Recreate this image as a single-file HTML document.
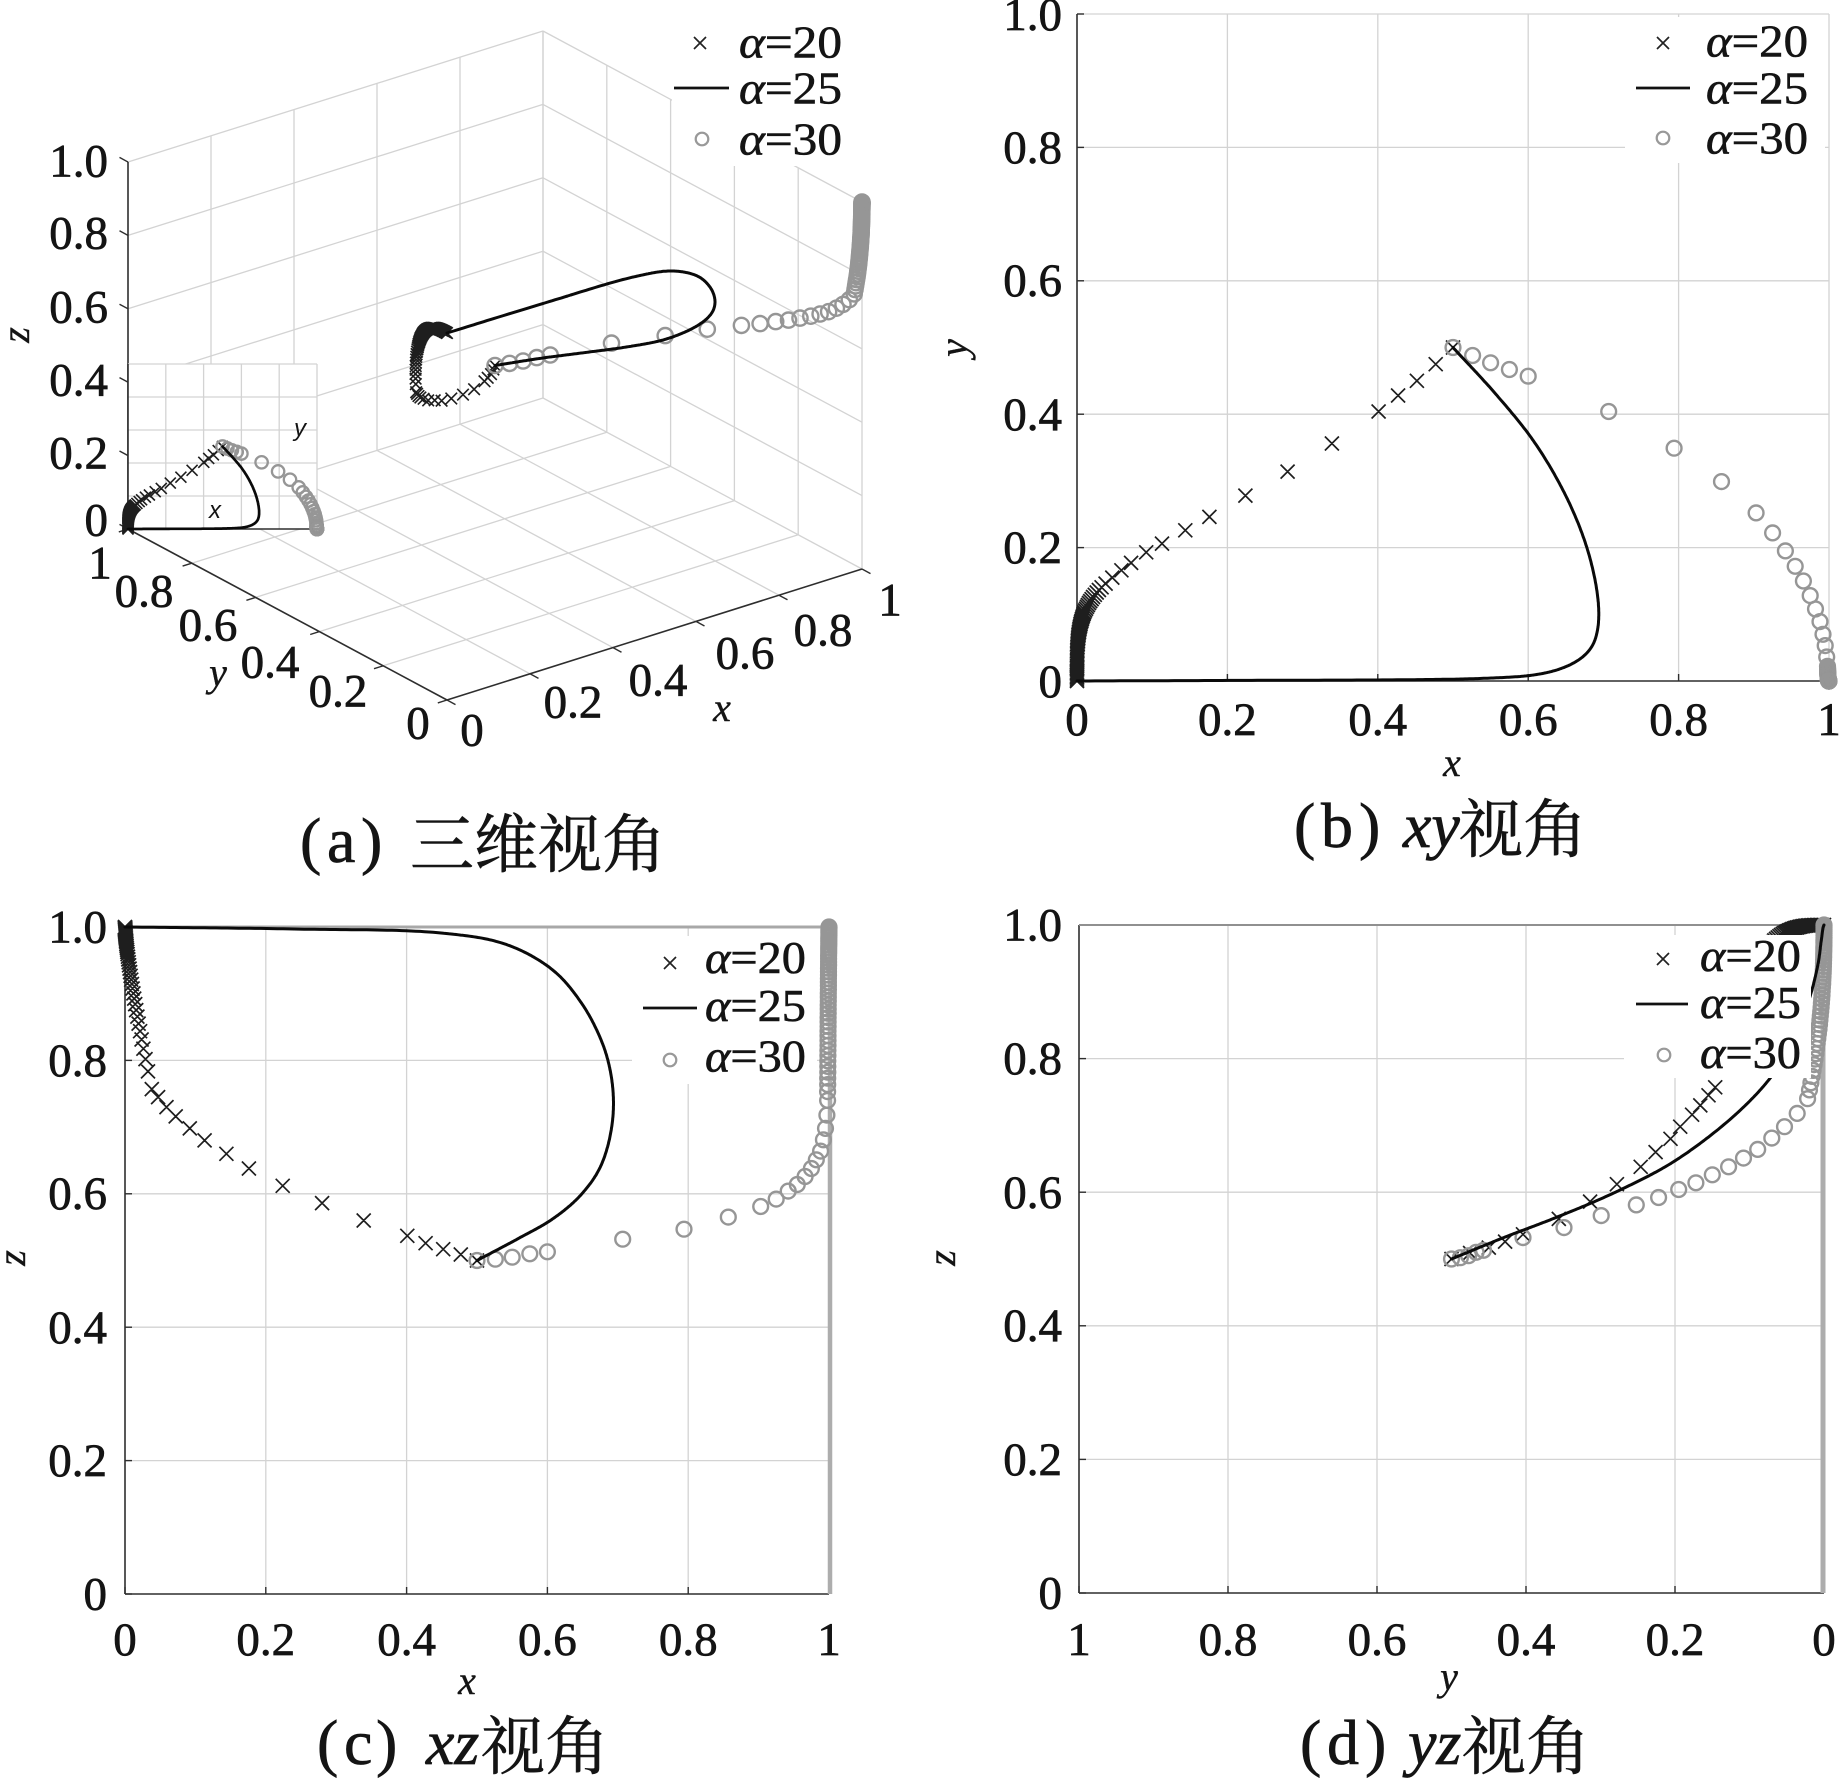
<!DOCTYPE html>
<html><head><meta charset="utf-8"><title>chart</title>
<style>
html,body{margin:0;padding:0;background:#fff;overflow:hidden;}
svg{display:block;}
.t{font-family:"Liberation Serif","DejaVu Serif",serif;font-size:47px;fill:#141414;stroke:#141414;stroke-width:0.7px;}
.e{text-anchor:end;}
.m{text-anchor:middle;}
.ax{font-family:"Liberation Serif",serif;font-size:40px;font-style:italic;fill:#141414;text-anchor:middle;stroke:#141414;stroke-width:0.4px;}
.lg{font-family:"Liberation Serif",serif;font-size:46px;fill:#141414;stroke:#141414;stroke-width:0.6px;}
.ti{font-family:"Liberation Serif",serif;font-size:64px;fill:#141414;stroke:#141414;stroke-width:0.7px;}
.cj{font-family:"Liberation Serif","Noto Serif CJK SC","Noto Sans CJK SC",serif;font-size:64px;fill:#141414;stroke:#141414;stroke-width:0.6px;}
.in{font-family:"Liberation Sans",sans-serif;font-size:24px;font-style:italic;fill:#141414;text-anchor:middle;}
</style></head><body>
<svg id="s" width="1841" height="1779" viewBox="0 0 1841 1779" xmlns="http://www.w3.org/2000/svg">
<rect width="1841" height="1779" fill="#fff"/>
<g id="g3"></g>
<g id="gi"></g>
<g id="d3"></g>
<g id="g2"></g>
<line x1="125" y1="927" x2="829" y2="927" stroke="#a8a8a8" stroke-width="3"/>
<line x1="830" y1="927" x2="830" y2="1594" stroke="#adadad" stroke-width="4.5"/>
<line x1="1079" y1="925" x2="1824" y2="925" stroke="#909090" stroke-width="2"/>
<line x1="1823" y1="925" x2="1823" y2="1593" stroke="#adadad" stroke-width="5"/>
<g id="d2"></g>

<rect x="672" y="14" width="178" height="152" fill="#fff"/>
<rect x="1625" y="17" width="200" height="146" fill="#fff"/>
<rect x="632" y="936" width="185" height="148" fill="#fff"/>
<rect x="1624" y="935" width="187" height="143" fill="#fff"/>

<g stroke="#222" stroke-width="1.7" fill="none">
<path d="M694 37L706 49M694 49L706 37"/>
<path d="M1657 37L1669 49M1657 49L1669 37"/>
<path d="M664 957L676 969M664 969L676 957"/>
<path d="M1657 953L1669 965M1657 965L1669 953"/>
</g>
<g stroke="#111" stroke-width="2.8">
<line x1="674" y1="88" x2="729" y2="88"/>
<line x1="1636" y1="88" x2="1690" y2="88"/>
<line x1="643" y1="1008" x2="697" y2="1008"/>
<line x1="1636" y1="1004" x2="1688" y2="1004"/>
</g>
<g stroke="#999" stroke-width="2.2" fill="none">
<circle cx="702" cy="139" r="6.3"/>
<circle cx="1663" cy="138" r="6.3"/>
<circle cx="670" cy="1060" r="6.3"/>
<circle cx="1664" cy="1055" r="6.3"/>
</g>
<text class="lg" x="739" y="57.5" textLength="103" lengthAdjust="spacingAndGlyphs"><tspan font-style="italic">α</tspan>=20</text>
<text class="lg" x="739" y="103.5" textLength="103" lengthAdjust="spacingAndGlyphs"><tspan font-style="italic">α</tspan>=25</text>
<text class="lg" x="739" y="154.5" textLength="103" lengthAdjust="spacingAndGlyphs"><tspan font-style="italic">α</tspan>=30</text>
<text class="lg" x="1706" y="56.5" textLength="102" lengthAdjust="spacingAndGlyphs"><tspan font-style="italic">α</tspan>=20</text>
<text class="lg" x="1706" y="103.5" textLength="102" lengthAdjust="spacingAndGlyphs"><tspan font-style="italic">α</tspan>=25</text>
<text class="lg" x="1706" y="153.5" textLength="102" lengthAdjust="spacingAndGlyphs"><tspan font-style="italic">α</tspan>=30</text>
<text class="lg" x="705" y="973" textLength="101" lengthAdjust="spacingAndGlyphs"><tspan font-style="italic">α</tspan>=20</text>
<text class="lg" x="705" y="1021" textLength="101" lengthAdjust="spacingAndGlyphs"><tspan font-style="italic">α</tspan>=25</text>
<text class="lg" x="705" y="1071.5" textLength="101" lengthAdjust="spacingAndGlyphs"><tspan font-style="italic">α</tspan>=30</text>
<text class="lg" x="1700" y="971" textLength="101" lengthAdjust="spacingAndGlyphs"><tspan font-style="italic">α</tspan>=20</text>
<text class="lg" x="1700" y="1018" textLength="101" lengthAdjust="spacingAndGlyphs"><tspan font-style="italic">α</tspan>=25</text>
<text class="lg" x="1700" y="1068" textLength="101" lengthAdjust="spacingAndGlyphs"><tspan font-style="italic">α</tspan>=30</text>

<text class="t e" x="108" y="176.5">1.0</text>
<text class="t e" x="108" y="248.5">0.8</text>
<text class="t e" x="108" y="322.5">0.6</text>
<text class="t e" x="108" y="395.5">0.4</text>
<text class="t e" x="108" y="468.5">0.2</text>
<text class="t e" x="108" y="535.5">0</text>
<text class="t m" x="100" y="578.5">1</text>
<text class="t m" x="144" y="606.5">0.8</text>
<text class="t m" x="208" y="640.5">0.6</text>
<text class="t m" x="270" y="677.5">0.4</text>
<text class="t m" x="338" y="706.5">0.2</text>
<text class="t m" x="418" y="738.5">0</text>
<text class="t m" x="472" y="745.5">0</text>
<text class="t m" x="573" y="717.5">0.2</text>
<text class="t m" x="658" y="695.5">0.4</text>
<text class="t m" x="745" y="668.5">0.6</text>
<text class="t m" x="823" y="645.5">0.8</text>
<text class="t m" x="890" y="615.5">1</text>
<text class="ax" transform="translate(20,335) rotate(-90)" x="0" y="9">z</text>
<text class="ax" x="218" y="686">y</text>
<text class="ax" x="722" y="721">x</text>
<text class="in" x="215" y="518">x</text>
<text class="in" x="300" y="436">y</text>

<text class="t m" x="1077" y="735">0</text>
<text class="t m" x="1227.4" y="735">0.2</text>
<text class="t m" x="1377.8" y="735">0.4</text>
<text class="t m" x="1528.2" y="735">0.6</text>
<text class="t m" x="1678.6" y="735">0.8</text>
<text class="t m" x="1829" y="735">1</text>
<text class="t e" x="1062" y="697">0</text>
<text class="t e" x="1062" y="563">0.2</text>
<text class="t e" x="1062" y="430">0.4</text>
<text class="t e" x="1062" y="296">0.6</text>
<text class="t e" x="1062" y="163">0.8</text>
<text class="t e" x="1062" y="30">1.0</text>
<text class="ax" x="1452" y="776">x</text>
<text class="ax" transform="translate(962,348) rotate(-90)" x="0" y="5">y</text>

<text class="t m" x="125" y="1655">0</text>
<text class="t m" x="265.8" y="1655">0.2</text>
<text class="t m" x="406.6" y="1655">0.4</text>
<text class="t m" x="547.4" y="1655">0.6</text>
<text class="t m" x="688.2" y="1655">0.8</text>
<text class="t m" x="829" y="1655">1</text>
<text class="t e" x="107" y="1609.5">0</text>
<text class="t e" x="107" y="1476">0.2</text>
<text class="t e" x="107" y="1343">0.4</text>
<text class="t e" x="107" y="1209">0.6</text>
<text class="t e" x="107" y="1076">0.8</text>
<text class="t e" x="107" y="942.5">1.0</text>
<text class="ax" x="467" y="1694">x</text>
<text class="ax" transform="translate(16,1258) rotate(-90)" x="0" y="9">z</text>

<text class="t m" x="1079" y="1655">1</text>
<text class="t m" x="1228" y="1655">0.8</text>
<text class="t m" x="1377" y="1655">0.6</text>
<text class="t m" x="1526" y="1655">0.4</text>
<text class="t m" x="1675" y="1655">0.2</text>
<text class="t m" x="1824" y="1655">0</text>
<text class="t e" x="1062" y="1608.5">0</text>
<text class="t e" x="1062" y="1475">0.2</text>
<text class="t e" x="1062" y="1341">0.4</text>
<text class="t e" x="1062" y="1208">0.6</text>
<text class="t e" x="1062" y="1074">0.8</text>
<text class="t e" x="1062" y="940.5">1.0</text>
<text class="ax" x="1449" y="1690">y</text>
<text class="ax" transform="translate(946,1258) rotate(-90)" x="0" y="9">z</text>

<text class="ti" y="862"><tspan x="300">(</tspan><tspan x="327">a</tspan><tspan x="361">)</tspan></text>
<text class="cj" x="410" y="867">三维视角</text>
<text class="ti" y="847"><tspan x="1294">(</tspan><tspan x="1321">b</tspan><tspan x="1359">)</tspan></text>
<text class="ti" x="1403" y="847" font-style="italic">xy</text>
<text class="cj" x="1459" y="852">视角</text>
<text class="ti" y="1764"><tspan x="317">(</tspan><tspan x="344">c</tspan><tspan x="376">)</tspan></text>
<text class="ti" x="426" y="1764" font-style="italic">xz</text>
<text class="cj" x="481" y="1769">视角</text>
<text class="ti" y="1764"><tspan x="1300">(</tspan><tspan x="1327">d</tspan><tspan x="1365">)</tspan></text>
<text class="ti" x="1408" y="1764" font-style="italic">yz</text>
<text class="cj" x="1462" y="1769">视角</text>
</svg>
<script>
(function(){
var NS='http://www.w3.org/2000/svg';
function E(g,tag,a){var e=document.createElementNS(NS,tag);for(var k in a)e.setAttribute(k,a[k]);g.appendChild(e);return e;}
function f(v){return v.toFixed(1);}
function L(g,a,b,c,w){E(g,'line',{x1:f(a[0]),y1:f(a[1]),x2:f(b[0]),y2:f(b[1]),stroke:c,'stroke-width':w});}
function crosses(g,pts,h,w,c){var d='';pts.forEach(function(p){d+='M'+f(p[0]-h)+' '+f(p[1]-h)+'L'+f(p[0]+h)+' '+f(p[1]+h)+'M'+f(p[0]-h)+' '+f(p[1]+h)+'L'+f(p[0]+h)+' '+f(p[1]-h);});E(g,'path',{d:d,stroke:c,'stroke-width':w,fill:'none'});}
function circles(g,pts,r,w,c){pts.forEach(function(p){E(g,'circle',{cx:f(p[0]),cy:f(p[1]),r:r,fill:'none',stroke:c,'stroke-width':w});});}
function poly(g,pts,w,c){E(g,'polyline',{points:pts.map(function(p){return f(p[0])+','+f(p[1]);}).join(' '),fill:'none',stroke:c,'stroke-width':w,'stroke-linejoin':'round','stroke-linecap':'round'});}

var a20=[[0.500,0.500,0.500],[0.477,0.475,0.509],[0.452,0.450,0.517],[0.427,0.428,0.526],[0.401,0.404,0.537],[0.339,0.356,0.560],[0.280,0.314,0.586],[0.224,0.278,0.612],[0.176,0.246,0.638],[0.144,0.226,0.660],[0.113,0.206,0.680],[0.092,0.193,0.698],[0.072,0.177,0.716],[0.059,0.166,0.730],[0.047,0.155,0.745]];
var N20=60;
for(var i=0;i<=N20;i++){var s=1-Math.pow(i/N20,0.8);a20.push([0.038*Math.pow(s,3.9),0.146*s,1-0.243*s*s*s]);}
var a30=[[0.500,0.500,0.500],[0.526,0.488,0.502],[0.550,0.477,0.505],[0.575,0.467,0.510],[0.600,0.457,0.513],[0.707,0.404,0.532],[0.794,0.349,0.547],[0.857,0.299,0.565],[0.903,0.252,0.581],[0.925,0.222,0.592],[0.942,0.195,0.604],[0.955,0.172,0.614],[0.966,0.150,0.626],[0.975,0.128,0.638],[0.982,0.108,0.651],[0.988,0.089,0.664],[0.992,0.070,0.681],[0.995,0.053,0.698],[0.997,0.036,0.718]];
var N30=45;
for(var i=0;i<=N30;i++){var s=1-Math.pow(i/N30,0.85);a30.push([1-0.002*s,0.022*s*s*s,1-0.26*Math.pow(s,1.3)]);}
var K25=[[0.500,0.500,0.500],[0.557,0.43,0.532],[0.607,0.36,0.562],[0.649,0.28,0.600],[0.678,0.20,0.647],[0.693,0.12,0.715],[0.691,0.07,0.774],[0.678,0.042,0.826],[0.649,0.021,0.885],[0.607,0.009,0.936],[0.541,0.004,0.974],[0.449,0.002,0.991],[0.240,0.001,0.997],[0.0,0.0,1.0]];
function crc(P,n){
  var first=P[0].map(function(v,j){return 2*v-P[1][j];});
  var last=P[P.length-1].map(function(v,j){return 2*v-P[P.length-2][j];});
  var pts=[first].concat(P).concat([last]);
  var out=[];
  function d(a,b){return Math.pow(Math.sqrt((a[0]-b[0])*(a[0]-b[0])+(a[1]-b[1])*(a[1]-b[1])+(a[2]-b[2])*(a[2]-b[2])),0.5)||1e-6;}
  for(var i=1;i<pts.length-2;i++){
    var p0=pts[i-1],p1=pts[i],p2=pts[i+1],p3=pts[i+2];
    var t0=0,t1=t0+d(p0,p1),t2=t1+d(p1,p2),t3=t2+d(p2,p3);
    for(var k=0;k<n;k++){
      var t=t1+(t2-t1)*k/n;
      var Lp=function(a,b,ta,tb){return a.map(function(v,j){return ((tb-t)*v+(t-ta)*b[j])/(tb-ta);});};
      var A1=Lp(p0,p1,t0,t1),A2=Lp(p1,p2,t1,t2),A3=Lp(p2,p3,t2,t3);
      var B1=Lp(A1,A2,t0,t2),B2=Lp(A2,A3,t1,t3);
      out.push(Lp(B1,B2,t1,t2));
    }
  }
  out.push(P[P.length-1]);
  return out;
}
var a25=crc(K25,30);

function V3(p){return [447+415*p[0]-319*p[1],700-131*p[0]-171*p[1]-367*p[2]];}
function VI(p){return [128+189*p[0],529-165*p[1]];}
function VB(p){return [1077+752*p[0],681-667*p[1]];}
function VC(p){return [125+704*p[0],1594-667*p[2]];}
function VD(p){return [1824-745*p[1],1593-668*p[2]];}

var GC='#d3d3d3',GW=1.3,AC='#2e2e2e',AW=1.6;
var X20='#1e1e1e',C30='#969696',L25='#0a0a0a';

var g3=document.getElementById('g3');
for(var k=1;k<=5;k++){
  var t=k/5;
  L(g3,V3([t,0,0]),V3([t,1,0]),GC,GW);
  L(g3,V3([0,t,0]),V3([1,t,0]),GC,GW);
  L(g3,V3([t,1,0]),V3([t,1,1]),GC,GW);
  L(g3,V3([0,1,t]),V3([1,1,t]),GC,GW);
  L(g3,V3([1,t,0]),V3([1,t,1]),GC,GW);
  L(g3,V3([1,0,t]),V3([1,1,t]),GC,GW);
}
L(g3,V3([1,0,0]),V3([1,0,1]),GC,GW);
L(g3,V3([0,1,0]),V3([0,1,1]),AC,AW);
L(g3,V3([0,0,0]),V3([0,1,0]),AC,AW);
L(g3,V3([0,0,0]),V3([1,0,0]),AC,AW);
for(var k=0;k<=5;k++){
  var t=k/5,p;
  p=V3([t,0,0]);L(g3,p,[p[0]+8.5,p[1]+4.6],AC,1.4);
  p=V3([0,t,0]);L(g3,p,[p[0]-9.2,p[1]+2.9],AC,1.4);
  p=V3([0,1,t]);L(g3,p,[p[0]-8.5,p[1]-4.6],AC,1.4);
}

var gi=document.getElementById('gi');
E(gi,'rect',{x:128,y:364,width:189,height:165,fill:'#fff'});
for(var k=1;k<=5;k++){
  var x=128+189*k/5,y=529-165*k/5;
  L(gi,[x,364],[x,529],GC,GW);
  L(gi,[128,y],[317,y],GC,GW);
}
L(gi,[128,529],[317,529],AC,AW);
L(gi,[128,364],[128,529],AC,AW);
crosses(gi,a20.map(VI),5.5,1.6,X20);
circles(gi,a30.map(VI),6.2,2.3,C30);
poly(gi,a25.map(VI),2.7,L25);

var d3=document.getElementById('d3');
crosses(d3,a20.map(V3),5.8,1.6,X20);
circles(d3,a30.map(V3),7.6,2.4,C30);
poly(d3,a25.map(V3),3,L25);

var g2=document.getElementById('g2');
function grid2d(x0,x1,yb,yt){
  for(var k=1;k<=5;k++){
    var x=x0+(x1-x0)*k/5,y=yb+(yt-yb)*k/5;
    L(g2,[x,yt],[x,yb],GC,GW);
    L(g2,[x0,y],[x1,y],GC,GW);
  }
  L(g2,[x0,yt],[x0,yb],AC,AW);
  L(g2,[x0,yb],[x1,yb],AC,AW);
  for(var k=0;k<=5;k++){
    var x=x0+(x1-x0)*k/5,y=yb+(yt-yb)*k/5;
    L(g2,[x,yb],[x,yb-7],AC,1.4);
    L(g2,[x0,y],[x0+7,y],AC,1.4);
  }
}
grid2d(1077,1829,681,14);
grid2d(125,829,1594,927);
grid2d(1079,1824,1593,925);

var d2=document.getElementById('d2');
[VB,VC,VD].forEach(function(V){
  crosses(d2,a20.map(V),7,1.7,X20);
  circles(d2,a30.map(V),7.4,2.4,C30);
  poly(d2,a25.map(V),3,L25);
});
})();
</script>
</body></html>
